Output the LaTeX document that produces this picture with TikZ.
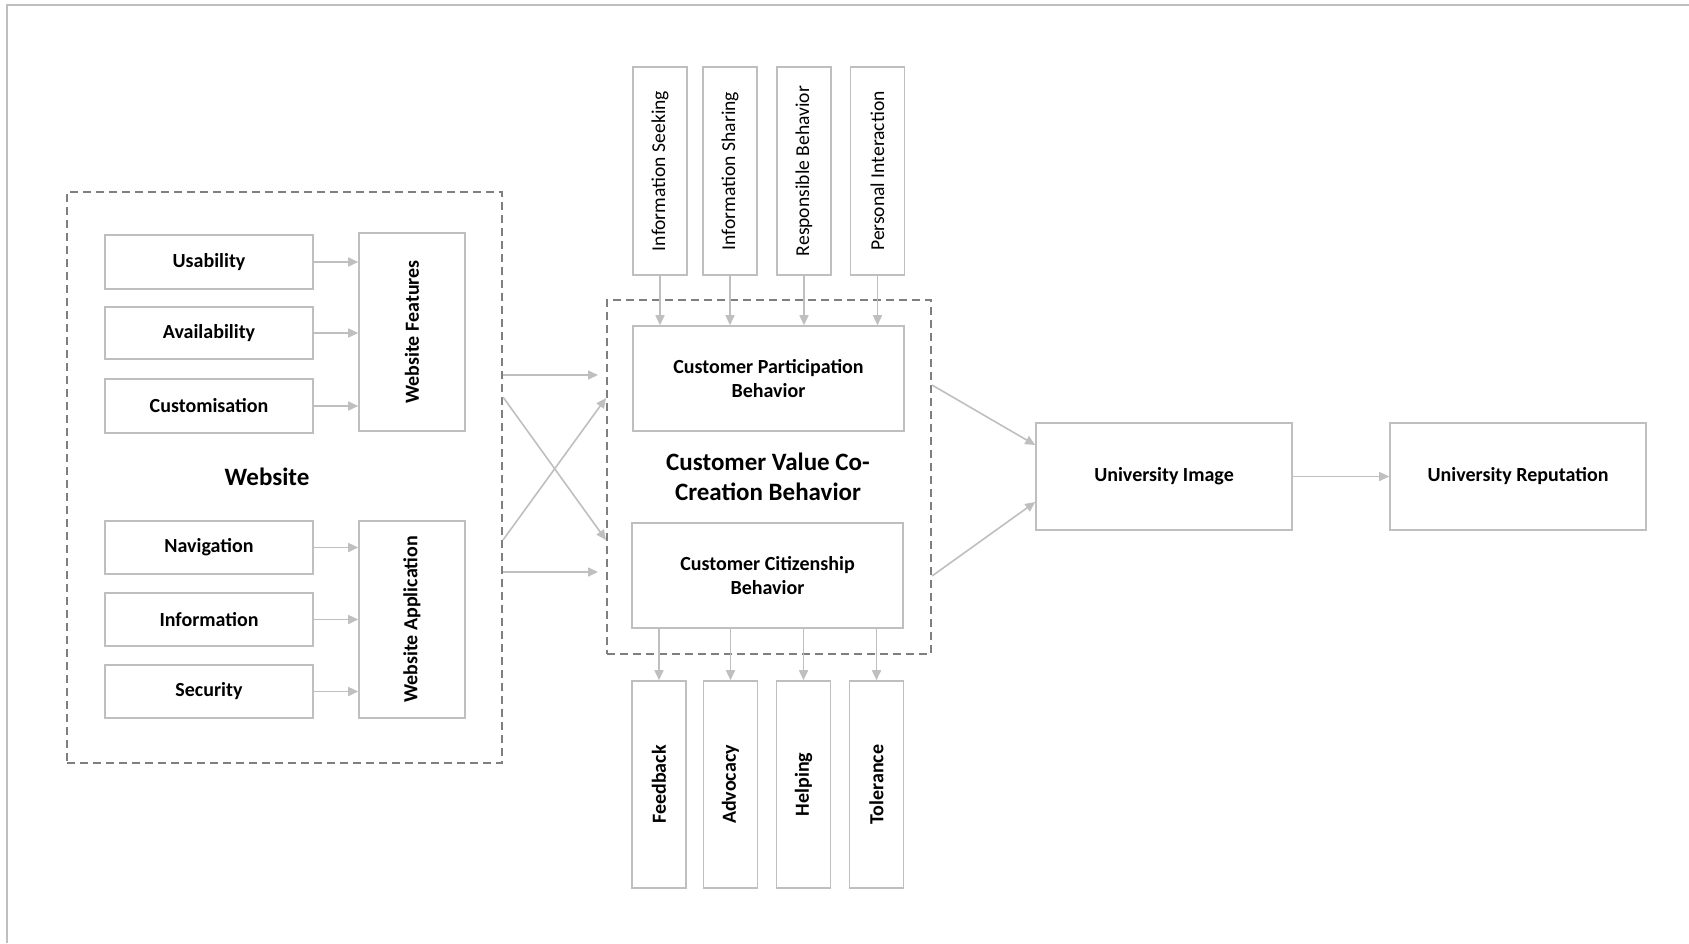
\documentclass[tikz,border=0pt]{standalone}
\usepackage{fontspec}
\setmainfont{Carlito}
\usetikzlibrary{arrows.meta,calc}
\definecolor{boxgray}{HTML}{BFBFBF}
\definecolor{dashgray}{HTML}{7F7F7F}
\definecolor{arrgray}{HTML}{BFBFBF}
\begin{document}
\begin{tikzpicture}[x=0.5pt,y=-0.5pt,
 box/.style={draw=boxgray,line width=0.8pt,fill=white,inner sep=0pt,align=center,font=\bfseries\fontsize{10}{12}\selectfont},
 vbox/.style={draw=boxgray,line width=0.8pt,fill=white,inner sep=0pt,minimum width=27pt},
 vlab/.style={rotate=90,inner sep=0pt,font=\fontsize{9.8}{11}\selectfont},
 vlabb/.style={rotate=90,inner sep=0pt,font=\bfseries\fontsize{10}{12}\selectfont},
 grp/.style={draw=dashgray,line width=1pt,dash pattern=on 4pt off 2.5pt,inner sep=0pt},
 big/.style={inner sep=0pt,align=center,font=\bfseries\fontsize{12.5}{15}\selectfont},
 arr/.style={draw=arrgray,line width=0.8pt,-{Triangle[length=5pt,width=4.5pt]}},
]
\useasboundingbox (0,0) rectangle (1689,943);
\draw[boxgray,line width=1pt] (7,943) -- (7,5) -- (1689,5);

% group boxes
\node[grp,minimum width=217.5pt,minimum height=285.5pt] (ws) at (284.5,477.5) {};
\node[grp,minimum width=162pt,minimum height=177pt] (cv) at (769,477) {};

% website
\node[box,minimum width=104pt,minimum height=27pt] (us) at (209,262) {Usability};
\node[box,minimum width=104pt,minimum height=26pt] (av) at (209,333) {Availability};
\node[box,minimum width=104pt,minimum height=27pt] (cu) at (209,406) {Customisation};
\node[vbox,minimum width=53pt,minimum height=99pt,label={[vlabb]center:Website Features}] (wf) at (412,332) {};
\node[box,minimum width=104pt,minimum height=26.5pt] (nv) at (209,547.5) {Navigation};
\node[box,minimum width=104pt,minimum height=26.5pt] (inf) at (209,619.5) {Information};
\node[box,minimum width=104pt,minimum height=26.5pt] (se) at (209,691.5) {Security};
\node[vbox,minimum width=53pt,minimum height=98.5pt,label={[vlabb]center:Website Application}] (wa) at (412,619.5) {};
\node[big] (wl) at (267,477) {Website};

\foreach \a in {us,av,cu} \draw[arr] (\a.east) -- (\a.east -| wf.west);
\foreach \a in {nv,inf,se} \draw[arr] (\a.east) -- (\a.east -| wa.west);

% top boxes
\node[vbox,minimum height=104pt,label={[vlab]center:Information Seeking}] (t1) at (660,171) {};
\node[vbox,minimum height=104pt,label={[vlab]center:Information Sharing}] (t2) at (730,171) {};
\node[vbox,minimum height=104pt,label={[vlab]center:Responsible Behavior}] (t3) at (804,171) {};
\node[vbox,minimum height=104pt,label={[vlab]center:Personal Interaction}] (t4) at (877.5,171) {};

\node[box,minimum width=135.5pt,minimum height=52.5pt] (cpb) at (768.5,378.5) {Customer Participation\\Behavior};
\node[box,minimum width=135.5pt,minimum height=52.5pt] (ccb) at (767.5,575.5) {Customer Citizenship\\Behavior};
\node[big] (cvl) at (768,477) {Customer Value Co-\\Creation Behavior};

% bottom boxes
\node[vbox,minimum height=103.5pt,label={[vlabb]center:Feedback}] (b1) at (659,784.5) {};
\node[vbox,minimum height=103.5pt,label={[vlabb]center:Advocacy}] (b2) at (730.5,784.5) {};
\node[vbox,minimum height=103.5pt,label={[vlabb]center:Helping}] (b3) at (803.5,784.5) {};
\node[vbox,minimum height=103.5pt,label={[vlabb]center:Tolerance}] (b4) at (876.5,784.5) {};

\foreach \a in {t1,t2,t3,t4} \draw[arr] (\a.south) -- (\a.south |- cpb.north);
\foreach \a in {b1,b2,b3,b4} \draw[arr] (\a.north |- ccb.south) -- (\a.north);

% outcomes
\node[box,minimum width=128pt,minimum height=53.5pt] (ui) at (1164,476.5) {University Image};
\node[box,minimum width=128pt,minimum height=53.5pt] (ur) at (1518,476.5) {University Reputation};

% connectors between groups
\draw[arr,shorten >=4pt] ($(ws.east)+(0,-102.5)$) -- ($(cv.west)+(0,-102)$);
\draw[arr] ($(ws.east)+(0,-80.5)$) -- ($(cv.west)+(0,63)$);
\draw[arr] ($(ws.east)+(0,62.5)$) -- ($(cv.west)+(0,-79)$);
\draw[arr,shorten >=4pt] ($(ws.east)+(0,94.5)$) -- ($(cv.west)+(0,95)$);
\draw[arr] ($(cv.east)+(0,-92)$) -- ($(ui.west)+(0,-31.5)$);
\draw[arr] ($(cv.east)+(0,99)$) -- ($(ui.west)+(0,25.5)$);
\draw[arr] (ui) -- (ur);
\end{tikzpicture}
\end{document}
